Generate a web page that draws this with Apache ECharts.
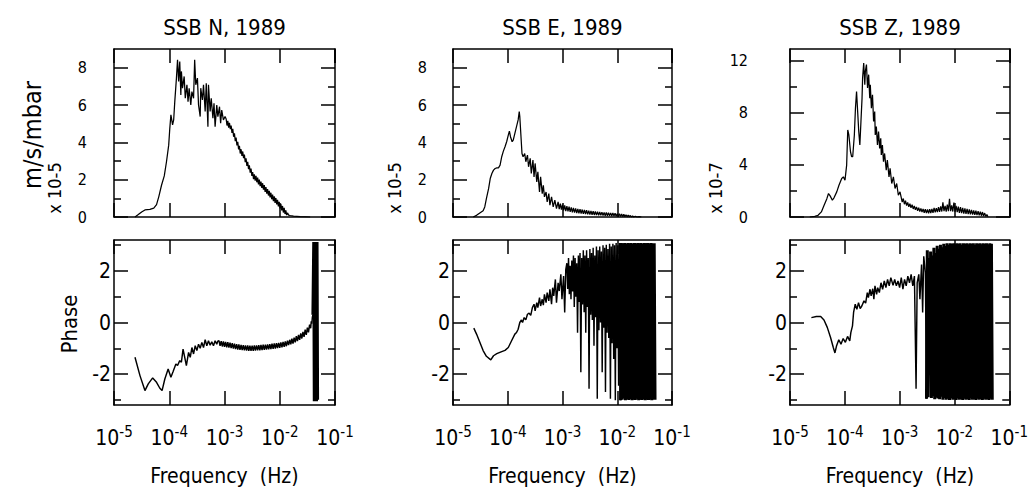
<!DOCTYPE html>
<html><head><meta charset="utf-8">
<script src="https://cdn.jsdelivr.net/npm/echarts@6/dist/echarts.min.js"></script>
<style>html,body{margin:0;padding:0;background:#fff}#c{width:1031px;height:489px}</style>
</head><body><div id="c"></div>
<script>
// ---------- texts / tick labels ----------
const titles = ['SSB N, 1989', 'SSB E, 1989', 'SSB Z, 1989'];
const scaleLabels = ['x 10-5', 'x 10-5', 'x 10-7'];
const ampUnitLabel = 'm/s/mbar';
const phaseLabel = 'Phase';
const xLabel = 'Frequency  (Hz)';
const xTickExponents = [-5, -4, -3, -2, -1];
const ampMajorTicks = [[0, 2, 4, 6, 8], [0, 2, 4, 6, 8], [0, 4, 8, 12]];
const ampMinorTicks = [[1, 3, 5, 7], [1, 3, 5, 7], [2, 6, 10]];
const ampMax = [9, 9, 12.9];
const phaseMajorTicks = [-2, 0, 2];
const phaseMinorTicks = [-3, -1, 1, 3];

// ---------- data: [log10(frequency / Hz), value] ----------
const nAmp = [[-4.62,0],[-4.56,0.13],[-4.50,0.27],[-4.44,0.38],[-4.35,0.41],[-4.28,0.48],[-4.23,0.66],[-4.19,1.08],[-4.14,1.70],[-4.09,2.20],[-4.05,2.96],[-4.01,3.85],[-3.99,4.75],[-3.97,5.47],[-3.94,4.93],[-3.92,5.2],[-3.90,6.18],[-3.87,7.44],[-3.85,8.42],[-3.83,7.26],[-3.81,8.33],[-3.79,6.54],[-3.78,7.8],[-3.76,6.9],[-3.73,7.53],[-3.71,6.36],[-3.68,7.08],[-3.66,6.18],[-3.64,6.9],[-3.61,6.0],[-3.59,6.72],[-3.56,6.36],[-3.54,8.42],[-3.52,7.08],[-3.49,7.44],[-3.47,6.0],[-3.44,5.38],[-3.43,6.9],[-3.40,6.27],[-3.38,7.08],[-3.35,5.65],[-3.33,7.17],[-3.30,4.84],[-3.29,7.08],[-3.26,5.65],[-3.24,6.36],[-3.21,5.29],[-3.19,6.09],[-3.17,4.84],[-3.14,6.0],[-3.12,5.38],[-3.09,5.91],[-3.07,5.02],[-3.05,5.73],[-3.02,5.2],[-2.99,5.38],
[-2.970,5.25],[-2.955,4.90],[-2.940,5.15],[-2.925,4.79],[-2.910,5.05],[-2.895,4.71],[-2.880,4.90],[-2.865,4.51],[-2.850,4.72],[-2.835,4.30],[-2.820,4.48],[-2.805,4.06],[-2.790,4.25],[-2.775,3.84],[-2.760,4.03],[-2.745,3.62],[-2.730,3.81],[-2.715,3.40],[-2.700,3.63],[-2.685,3.27],[-2.670,3.51],[-2.655,3.15],[-2.640,3.34],[-2.625,2.94],[-2.610,3.14],[-2.595,2.74],[-2.580,2.95],[-2.565,2.56],[-2.550,2.77],[-2.535,2.38],[-2.520,2.59],[-2.505,2.20],[-2.490,2.41],[-2.475,2.03],[-2.460,2.29],[-2.445,1.95],[-2.430,2.21],[-2.415,1.86],[-2.400,2.11],[-2.385,1.75],[-2.370,2.00],[-2.355,1.65],[-2.340,1.90],[-2.325,1.56],[-2.310,1.81],[-2.295,1.46],[-2.280,1.71],[-2.265,1.35],[-2.250,1.60],[-2.235,1.25],[-2.220,1.50],[-2.205,1.15],[-2.190,1.40],[-2.175,1.05],[-2.160,1.30],[-2.145,0.95],[-2.130,1.20],[-2.115,0.85],[-2.100,1.11],[-2.085,0.76],[-2.070,1.02],[-2.055,0.67],[-2.040,0.92],[-2.025,0.57],[-2.010,0.81],[-1.995,0.46],[-1.980,0.70],[-1.965,0.35],[-1.950,0.59],[-1.935,0.24],[-1.920,0.49],[-1.905,0.16],[-1.890,0.35],[-1.875,0.10],[-1.860,0.22],[-1.840,0.1],[-1.810,0.08],[-1.75,0.05],[-1.63,0.02],[-1.45,0]];

const eAmp = [[-4.63,0],[-4.57,0.09],[-4.51,0.22],[-4.45,0.34],[-4.42,0.54],[-4.39,0.99],[-4.35,1.52],[-4.32,2.06],[-4.29,2.33],[-4.26,2.51],[-4.23,2.6],[-4.20,2.63],[-4.17,2.63],[-4.14,2.78],[-4.11,3.23],[-4.08,3.53],[-4.05,3.76],[-4.02,4.03],[-3.99,4.39],[-3.97,4.6],[-3.95,4.3],[-3.92,4.03],[-3.90,4.12],[-3.87,4.48],[-3.84,4.84],[-3.81,5.2],[-3.79,5.65],[-3.78,5.38],[-3.76,4.39],[-3.74,3.4],[-3.72,3.23],[-3.69,3.4],[-3.67,2.96],[-3.64,3.32],[-3.62,2.69],[-3.59,3.14],[-3.57,2.33],[-3.54,3.05],[-3.52,2.15],[-3.50,2.87],[-3.47,1.88],[-3.45,2.42],[-3.42,1.34],[-3.40,2.15],[-3.37,1.25],[-3.35,1.7],[-3.33,1.08],[-3.30,1.34],[-3.28,0.81],[-3.25,1.25],[-3.23,0.63],[-3.20,1.08],[-3.17,0.54],[-3.14,0.9],[-3.11,0.45],[-3.08,0.81],[-3.06,0.42],
[-3.04,0.72],[-3.02,0.40],[-3.00,0.66],[-2.98,0.36],[-2.96,0.62],[-2.94,0.32],[-2.92,0.58],[-2.90,0.30],[-2.88,0.55],[-2.86,0.27],[-2.84,0.52],[-2.82,0.25],[-2.80,0.49],[-2.78,0.23],[-2.76,0.46],[-2.74,0.21],[-2.72,0.44],[-2.70,0.19],[-2.68,0.42],[-2.66,0.18],[-2.64,0.40],[-2.62,0.17],[-2.60,0.38],[-2.58,0.16],[-2.56,0.36],[-2.54,0.14],[-2.52,0.34],[-2.50,0.13],[-2.48,0.33],[-2.46,0.12],[-2.44,0.31],[-2.42,0.11],[-2.40,0.30],[-2.38,0.10],[-2.36,0.29],[-2.34,0.09],[-2.32,0.27],[-2.30,0.09],[-2.28,0.26],[-2.26,0.08],[-2.24,0.25],[-2.22,0.07],[-2.20,0.24],[-2.18,0.07],[-2.16,0.23],[-2.14,0.06],[-2.12,0.22],[-2.10,0.05],[-2.08,0.21],[-2.06,0.05],[-2.04,0.20],[-2.02,0.04],[-2.00,0.18],[-1.98,0.03],[-1.96,0.17],[-1.94,0.03],[-1.92,0.16],[-1.90,0.02],[-1.88,0.14],[-1.86,0.02],[-1.84,0.12],[-1.82,0.01],[-1.80,0.10],[-1.78,0.01],[-1.76,0.08],[-1.74,0],[-1.72,0.06],[-1.70,0],[-1.67,0.04],[-1.64,0],[-1.60,0.02],[-1.56,0]];

const zAmp = [[-4.64,0],[-4.55,0.05],[-4.49,0.13],[-4.43,0.39],[-4.38,0.9],[-4.33,1.41],[-4.30,1.8],[-4.27,1.62],[-4.23,1.29],[-4.20,1.47],[-4.15,1.93],[-4.11,2.44],[-4.06,2.96],[-4.03,3.08],[-4.00,2.83],[-3.97,3.98],[-3.95,6.68],[-3.93,6.3],[-3.90,5.01],[-3.88,4.63],[-3.86,4.63],[-3.83,6.3],[-3.81,8.35],[-3.79,9.64],[-3.77,8.1],[-3.75,6.56],[-3.73,5.53],[-3.71,7.33],[-3.69,9.13],[-3.68,10.67],[-3.66,11.83],[-3.64,10.15],[-3.63,11.18],[-3.61,11.7],[-3.59,9.9],[-3.57,10.93],[-3.55,9.13],[-3.54,10.15],[-3.52,8.35],[-3.50,9.38],[-3.48,7.33],[-3.46,8.1],[-3.45,6.3],[-3.43,6.94],[-3.41,5.53],[-3.39,6.56],[-3.37,5.27],[-3.35,6.04],[-3.34,4.76],[-3.32,5.53],[-3.30,4.24],[-3.28,4.88],[-3.25,3.6],[-3.23,4.37],[-3.20,3.08],[-3.18,3.73],[-3.15,2.57],[-3.12,3.08],[-3.09,2.19],[-3.06,2.57],[-3.03,1.67],[-3.00,1.93],
[-2.98,1.55],[-2.96,1.15],[-2.94,1.42],[-2.92,0.98],[-2.90,1.25],[-2.88,0.88],[-2.86,1.12],[-2.84,0.78],[-2.82,1.02],[-2.80,0.70],[-2.78,0.95],[-2.76,0.62],[-2.74,0.85],[-2.72,0.55],[-2.70,0.78],[-2.68,0.48],[-2.66,0.72],[-2.64,0.42],[-2.62,0.66],[-2.60,0.38],[-2.58,0.62],[-2.56,0.33],[-2.54,0.60],[-2.52,0.30],[-2.50,0.58],[-2.48,0.28],[-2.46,0.60],[-2.44,0.30],[-2.42,0.62],[-2.40,0.32],[-2.38,0.70],[-2.36,0.35],[-2.34,0.68],[-2.32,0.38],[-2.30,0.75],[-2.28,0.40],[-2.26,0.82],[-2.24,0.42],[-2.22,1.12],[-2.20,0.45],[-2.18,0.85],[-2.16,0.42],[-2.14,0.95],[-2.12,0.45],[-2.10,1.40],[-2.08,0.45],[-2.06,0.90],[-2.04,0.42],[-2.02,1.10],[-2.00,0.40],[-1.98,0.85],[-1.96,0.38],[-1.94,0.80],[-1.92,0.32],[-1.90,0.75],[-1.88,0.30],[-1.86,0.70],[-1.84,0.26],[-1.82,0.66],[-1.80,0.24],[-1.78,0.62],[-1.76,0.22],[-1.74,0.58],[-1.72,0.20],[-1.70,0.55],[-1.68,0.18],[-1.66,0.50],[-1.64,0.16],[-1.62,0.48],[-1.60,0.14],[-1.58,0.45],[-1.56,0.12],[-1.54,0.40],[-1.52,0.10],[-1.50,0.38],[-1.48,0.08],[-1.46,0.30],[-1.44,0.05],[-1.42,0.18],[-1.40,0.02],[-1.39,0]];

const nPhase = [[-4.62,-1.35],[-4.53,-2.06],[-4.44,-2.64],[-4.38,-2.38],[-4.30,-2.15],[-4.23,-2.32],[-4.17,-2.55],[-4.13,-2.64],[-4.08,-2.19],[-4.02,-1.8],[-3.97,-2.12],[-3.93,-1.9],[-3.88,-1.61],[-3.85,-1.67],[-3.81,-1.48],[-3.78,-1.54],[-3.75,-1.03],[-3.72,-1.35],[-3.69,-1.67],[-3.65,-1.16],[-3.62,-1.35],[-3.59,-0.97],[-3.56,-1.22],[-3.53,-0.9],[-3.50,-1.09],[-3.47,-0.84],[-3.44,-1.0],[-3.41,-0.77],[-3.38,-0.97],[-3.35,-0.67],[-3.32,-0.9],[-3.29,-0.71],[-3.26,-0.88],[-3.23,-0.75],[-3.20,-0.9],[-3.17,-0.71],[-3.14,-0.84],[-3.12,-0.72],
[-3.10,-0.70],[-3.08,-0.91],[-3.06,-0.72],[-3.04,-0.93],[-3.02,-0.73],[-3.00,-0.94],[-2.98,-0.75],[-2.96,-0.96],[-2.94,-0.76],[-2.92,-0.97],[-2.90,-0.78],[-2.88,-0.99],[-2.86,-0.80],[-2.84,-1.01],[-2.82,-0.82],[-2.80,-1.03],[-2.78,-0.84],[-2.76,-1.05],[-2.74,-0.85],[-2.72,-1.06],[-2.70,-0.87],[-2.68,-1.07],[-2.66,-0.88],[-2.64,-1.08],[-2.62,-0.89],[-2.60,-1.09],[-2.58,-0.89],[-2.56,-1.10],[-2.54,-0.90],[-2.52,-1.10],[-2.50,-0.90],[-2.48,-1.10],[-2.46,-0.89],[-2.44,-1.09],[-2.42,-0.89],[-2.40,-1.08],[-2.38,-0.88],[-2.36,-1.08],[-2.34,-0.87],[-2.32,-1.07],[-2.30,-0.86],[-2.28,-1.06],[-2.26,-0.86],[-2.24,-1.05],[-2.22,-0.85],[-2.20,-1.04],[-2.18,-0.84],[-2.16,-1.03],[-2.14,-0.82],[-2.12,-1.02],[-2.10,-0.81],[-2.08,-1.01],[-2.06,-0.80],[-2.04,-0.99],[-2.02,-0.79],[-2.00,-0.98],[-1.98,-0.77],[-1.96,-0.96],[-1.94,-0.75],[-1.92,-0.94],[-1.90,-0.73],[-1.88,-0.92],[-1.86,-0.70],[-1.84,-0.88],[-1.82,-0.67],[-1.80,-0.85],[-1.78,-0.63],[-1.76,-0.82],[-1.74,-0.59],[-1.72,-0.77],[-1.70,-0.53],[-1.68,-0.72],[-1.66,-0.48],[-1.64,-0.67],[-1.62,-0.42],[-1.60,-0.62],[-1.58,-0.36],[-1.56,-0.56],[-1.54,-0.28],[-1.52,-0.48],[-1.50,-0.20],[-1.48,-0.38],[-1.46,-0.08],[-1.44,-0.22],[-1.43,0.05],[-1.42,-0.05],[-1.41,0.2],[-1.40,0.3]];
// wrapped-phase band (drawn as a dense vertical band)
const nPhaseBand = [[-1.40,0.3],[-1.385,3.12],[-1.375,-3.05],[-1.365,3.12],[-1.355,-3.05],[-1.345,3.12],[-1.335,-3.05],[-1.325,3.12],[-1.315,-3.0]];

const ePhase = [[-4.62,-0.22],[-4.57,-0.45],[-4.51,-0.77],[-4.45,-1.09],[-4.39,-1.31],[-4.31,-1.45],[-4.26,-1.29],[-4.20,-1.21],[-4.11,-1.13],[-4.05,-1.08],[-3.99,-0.97],[-3.93,-0.71],[-3.87,-0.45],[-3.84,-0.39],[-3.81,-0.26],[-3.78,0.0],[-3.75,0.1],[-3.73,0.0],[-3.70,0.19],[-3.67,0.1],[-3.64,0.32],[-3.61,0.36],[-3.58,0.28],[-3.55,0.58],[-3.52,0.71],[-3.50,0.45],[-3.47,0.77],[-3.45,0.58],[-3.42,0.97],[-3.40,0.64],[-3.37,0.9],[-3.35,0.67],[-3.33,1.09],[-3.30,0.77],[-3.28,1.16],[-3.25,0.84],[-3.23,1.29],[-3.20,0.71],[-3.18,1.35],[-3.16,1.03],[-3.13,1.67],[-3.11,0.77],[-3.08,1.54],[-3.06,1.22],[-3.03,1.87],[-3.01,0.9],[-2.98,1.8],[-2.96,0.39],[-2.94,2.06],
[-2.92,2.3],[-2.905,1.3],[-2.89,2.5],[-2.875,1.1],[-2.86,2.2],[-2.845,0.9],[-2.83,2.4],[-2.815,1.2],[-2.80,2.6],[-2.785,0.6],[-2.77,2.5],[-2.755,1.0],[-2.74,2.3],[-2.725,-0.4],[-2.71,2.6],[-2.695,0.8],[-2.68,2.7],[-2.665,-1.93],[-2.65,2.5],[-2.635,0.7],[-2.62,2.8],[-2.605,0.4],[-2.59,2.6],[-2.575,-0.4],[-2.56,2.8],[-2.545,0.6],[-2.53,2.5],[-2.515,-2.57],[-2.50,2.85],[-2.485,0.3],[-2.47,2.7],[-2.455,0.1],[-2.44,2.9],[-2.425,-0.9],[-2.41,2.6],[-2.395,0.2],[-2.38,2.95],[-2.365,-2.96],[-2.35,2.8],[-2.335,-0.3],[-2.32,2.95],[-2.305,0.0],[-2.29,2.75],[-2.275,-1.93],[-2.26,3.0],[-2.245,-0.2],[-2.23,2.9],[-2.215,-2.7],[-2.20,3.02],[-2.185,-0.4],[-2.17,2.85],[-2.155,-0.6],[-2.14,3.05],[-2.125,-2.96],[-2.11,2.95],[-2.095,-0.8],[-2.08,3.05],[-2.065,-1.42],[-2.05,3.0],[-2.035,-3.02],[-2.02,3.08],[-2.005,-1.0],[-1.99,3.0],[-1.975,-2.45],[-1.96,3.08],[-1.945,-1.5],[-1.94,-3.02]];
const ePhaseBand = [[-1.94,-3.02],[-1.925,3.08],[-1.91,-3.0],[-1.895,3.06],[-1.88,-2.95],[-1.865,3.08],[-1.85,-3.02],[-1.835,3.05],[-1.82,-2.98],[-1.805,3.08],[-1.79,-3.01],[-1.775,3.07],[-1.76,-2.97],[-1.745,3.08],[-1.73,-3.02],[-1.715,3.05],[-1.70,-3.0],[-1.685,3.08],[-1.67,-3.01],[-1.655,3.06],[-1.64,-2.96],[-1.625,3.08],[-1.61,-3.02],[-1.595,3.07],[-1.58,-3.0],[-1.565,3.08],[-1.55,-3.01],[-1.535,3.05],[-1.52,-2.98],[-1.505,3.08],[-1.49,-3.02],[-1.475,3.07],[-1.46,-3.0],[-1.445,3.08],[-1.43,-3.01],[-1.415,3.06],[-1.40,-2.99],[-1.385,3.08],[-1.37,-3.02],[-1.355,3.07],[-1.34,-3.0],[-1.325,3.07],[-1.31,-3.0]];

const zPhase = [[-4.61,0.19],[-4.52,0.23],[-4.44,0.23],[-4.38,0.1],[-4.32,-0.19],[-4.26,-0.58],[-4.21,-0.97],[-4.18,-1.18],[-4.15,-0.9],[-4.11,-0.67],[-4.07,-0.84],[-4.03,-0.62],[-3.99,-0.77],[-3.95,-0.54],[-3.91,-0.71],[-3.89,-0.39],[-3.86,-0.13],[-3.84,0.39],[-3.81,0.71],[-3.78,0.51],[-3.75,0.77],[-3.72,0.54],[-3.69,0.64],[-3.65,0.84],[-3.62,0.75],[-3.59,1.16],[-3.57,0.97],[-3.54,1.29],[-3.52,1.03],[-3.49,1.31],[-3.47,0.9],[-3.45,1.42],[-3.42,1.09],[-3.40,1.35],[-3.37,1.16],[-3.34,1.54],[-3.31,1.29],[-3.28,1.61],[-3.25,1.35],[-3.22,1.67],[-3.19,1.42],[-3.16,1.74],[-3.12,1.44],[-3.09,1.67],[-3.06,1.42],[-3.03,1.61],[-3.00,1.35],[-2.97,1.74],[-2.94,1.29],[-2.91,1.67],[-2.88,1.42],[-2.85,1.8],[-2.82,1.54],[-2.79,1.87],[-2.76,1.42],[-2.73,1.8],[-2.70,-2.57],[-2.68,1.54],[-2.65,1.87],[-2.63,0.9],[-2.60,2.25],[-2.58,0.39],[-2.56,2.57],[-2.53,1.93],[-2.51,-2.96]];
const zPhaseBand = [[-2.51,-2.96],[-2.495,2.8],[-2.48,-2.9],[-2.465,2.5],[-2.45,-1.35],[-2.435,2.75],[-2.42,-2.93],[-2.405,2.6],[-2.39,-2.86],[-2.375,2.9],[-2.36,-2.98],[-2.345,2.7],[-2.33,-2.91],[-2.315,2.98],[-2.30,-2.95],[-2.285,2.86],[-2.27,-2.98],[-2.255,3.02],[-2.24,-2.88],[-2.225,2.92],[-2.21,-3.0],[-2.195,3.05],[-2.18,-2.93],[-2.165,2.97],[-2.15,-3.0],[-2.135,3.07],[-2.12,-2.96],[-2.105,3.02],[-2.09,-3.01],[-2.075,3.07],[-2.06,-2.94],[-2.045,3.04],[-2.03,-3.0],[-2.015,3.07],[-2.00,-2.97],[-1.985,3.03],[-1.97,-3.01],[-1.955,3.07],[-1.94,-2.95],[-1.925,3.05],[-1.91,-3.0],[-1.895,3.07],[-1.88,-2.98],[-1.865,3.02],[-1.85,-3.01],[-1.835,3.07],[-1.82,-2.96],[-1.805,3.05],[-1.79,-3.0],[-1.775,3.07],[-1.76,-2.98],[-1.745,3.03],[-1.73,-3.01],[-1.715,3.07],[-1.70,-2.95],[-1.685,3.05],[-1.67,-3.0],[-1.655,3.07],[-1.64,-2.98],[-1.625,3.02],[-1.61,-3.01],[-1.595,3.07],[-1.58,-2.96],[-1.565,3.05],[-1.55,-3.0],[-1.535,3.07],[-1.52,-2.98],[-1.505,3.03],[-1.49,-3.01],[-1.475,3.07],[-1.46,-2.96],[-1.445,3.05],[-1.43,-3.0],[-1.415,3.07],[-1.40,-2.98],[-1.385,3.03],[-1.37,-3.01],[-1.355,3.07],[-1.34,-2.96],[-1.325,3.05],[-1.31,-3.0]];

const panelData = [[nAmp, eAmp, zAmp], [nPhase, ePhase, zPhase]];
const panelBands = [[null, null, null], [nPhaseBand, ePhaseBand, zPhaseBand]];

// ---------- layout ----------
const FONT = "'DejaVu Sans Condensed','Liberation Sans Narrow','DejaVu Sans',sans-serif";
const cols = [{ left: 114, width: 221 }, { left: 453, width: 219 }, { left: 790, width: 220 }];
const rowsL = [{ top: 49, height: 168 }, { top: 240, height: 165 }];
const ampLabelMargin = [27, 26, 42];
const frame = { color: '#000', width: 1.5 };
const lineWidths = [1.25, 1.45];
const bandWidth = 3;

const grid = [], xAxis = [], yAxis = [], series = [];
const toXY = arr => arr.map(p => [Math.pow(10, p[0]), p[1]]);
for (let r = 0; r < 2; r++) {
  for (let c = 0; c < 3; c++) {
    const g = r * 3 + c;
    grid.push({ left: cols[c].left, width: cols[c].width, top: rowsL[r].top, height: rowsL[r].height });
    ['bottom', 'top'].forEach(pos => {
      const showLab = pos === 'bottom' && r === 1;
      xAxis.push({
        gridIndex: g, type: 'log', logBase: 10,
        min: Math.pow(10, xTickExponents[0]), max: Math.pow(10, xTickExponents[xTickExponents.length - 1]),
        position: pos,
        axisLine: { show: true, onZero: false, lineStyle: frame },
        axisTick: { show: true, inside: true, length: 14, lineStyle: frame },
        minorTick: { show: false }, splitLine: { show: false },
        axisLabel: showLab ? {
          show: true, margin: 19,
          formatter: v => '{b|10}{s|' + Math.round(Math.log10(v)) + '}',
          rich: {
            b: { fontSize: 21, fontFamily: FONT, color: '#000', lineHeight: 28 },
            s: { fontSize: 15, fontFamily: FONT, color: '#000', lineHeight: 14, verticalAlign: 'top' }
          }
        } : { show: false }
      });
    });
    const yMin = r === 0 ? 0 : -3.2, yMax = r === 0 ? ampMax[c] : 3.2;
    const major = r === 0 ? ampMajorTicks[c] : phaseMajorTicks;
    const minor = r === 0 ? ampMinorTicks[c] : phaseMinorTicks;
    ['left', 'right'].forEach(pos => {
      ['major', 'minor'].forEach(kind => {
        const isMajor = kind === 'major';
        yAxis.push({
          gridIndex: g, type: 'value', min: yMin, max: yMax, position: pos,
          axisLine: { show: isMajor, onZero: false, lineStyle: frame },
          axisTick: { show: true, inside: true, length: isMajor ? 14 : 7, lineStyle: frame, customValues: isMajor ? major : minor },
          splitLine: { show: false },
          axisLabel: (pos === 'left' && isMajor) ? {
            show: true, customValues: major, margin: r === 0 ? ampLabelMargin[c] : 3,
            fontSize: r === 0 ? 16 : 21, fontFamily: FONT, color: '#000'
          } : { show: false }
        });
      });
    });
    series.push({
      type: 'line', xAxisIndex: 2 * g, yAxisIndex: 4 * g,
      data: toXY(panelData[r][c]),
      symbol: 'none', showSymbol: false, clip: true, silent: true,
      lineStyle: { color: '#000', width: lineWidths[r], join: 'bevel' }
    });
    if (panelBands[r][c]) {
      series.push({
        type: 'line', xAxisIndex: 2 * g, yAxisIndex: 4 * g,
        data: toXY(panelBands[r][c]),
        symbol: 'none', showSymbol: false, clip: true, silent: true,
        lineStyle: { color: '#000', width: bandWidth, join: 'bevel' }
      });
    }
  }
}

const txt = (text, x, y, size, rot) => ({
  type: 'text', x: x, y: y, rotation: rot || 0, silent: true,
  style: { text: text, fontSize: size, fontFamily: FONT, fill: '#000', align: 'center', verticalAlign: 'middle' }
});
const graphic = [];
const scaleLabelX = [54, 394, 715];
for (let c = 0; c < 3; c++) {
  const cx = cols[c].left + cols[c].width / 2;
  graphic.push(txt(titles[c], cx, 27, 22));
  graphic.push(txt(xLabel, cx, 476, 21));
  graphic.push(txt(scaleLabels[c], scaleLabelX[c], 188, 18, Math.PI / 2));
}
graphic.push(txt(ampUnitLabel, 32, 135, 25, Math.PI / 2));
graphic.push(txt(phaseLabel, 69, 324, 22, Math.PI / 2));

const chart = echarts.init(document.getElementById('c'), null, { renderer: 'svg' });
chart.setOption({
  animation: false, backgroundColor: '#fff',
  grid: grid, xAxis: xAxis, yAxis: yAxis, series: series, graphic: graphic
});
</script>
</body></html>
